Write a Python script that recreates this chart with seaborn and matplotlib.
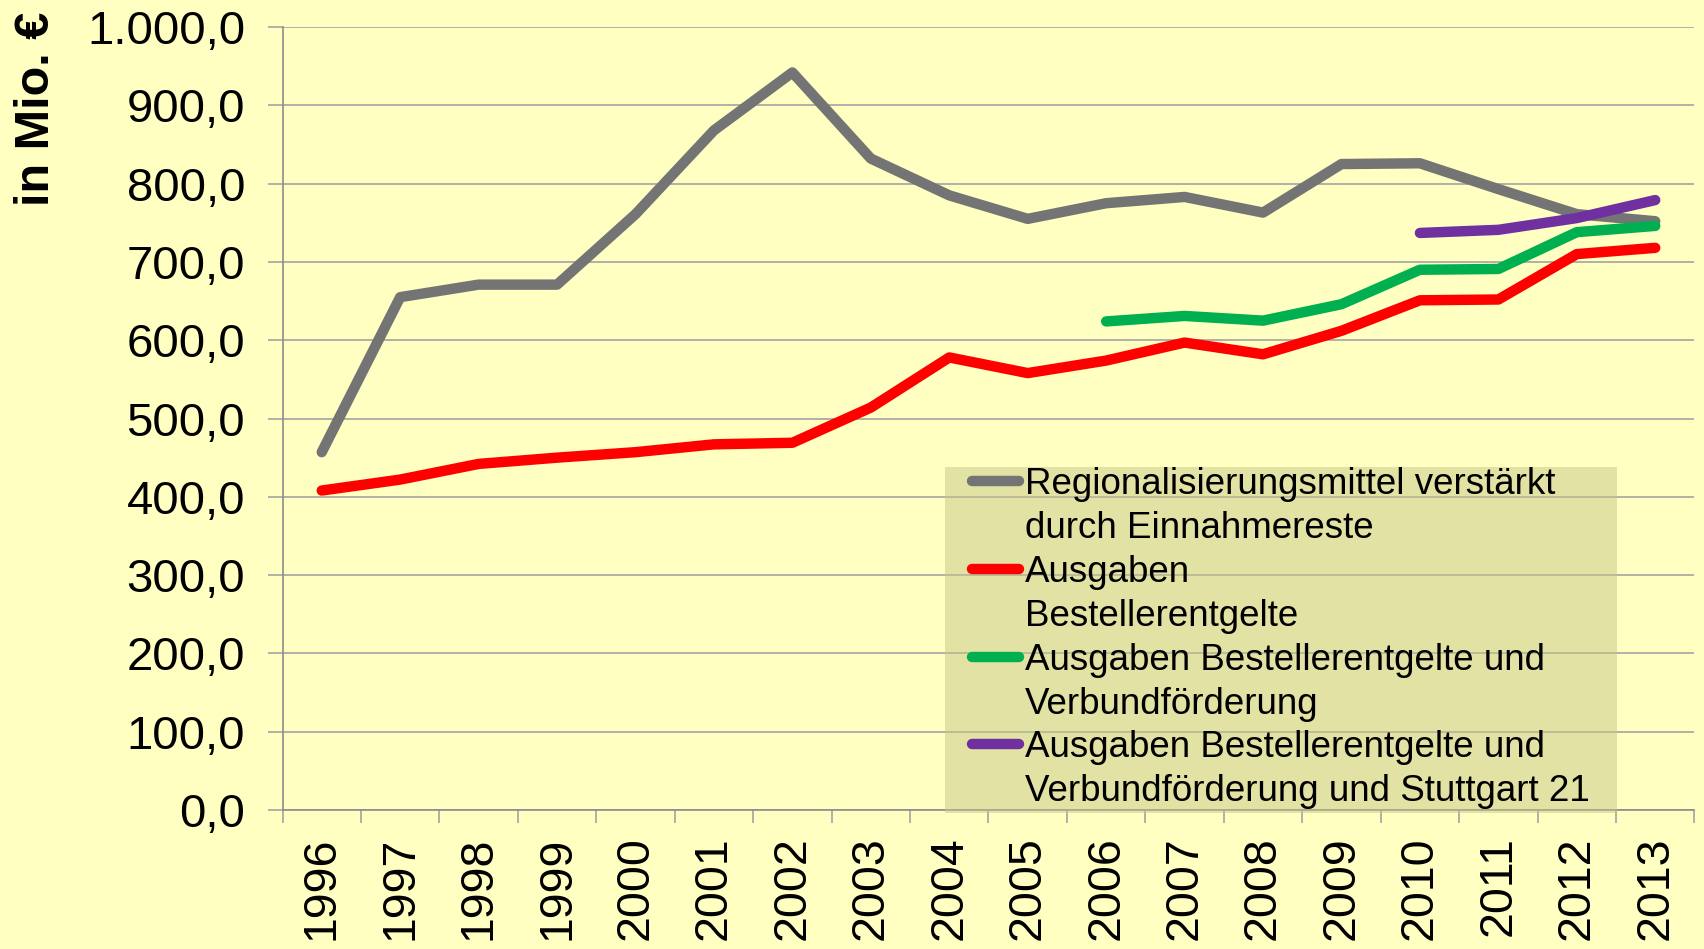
import matplotlib
matplotlib.use("Agg")
import matplotlib.pyplot as plt
from matplotlib.lines import Line2D
from matplotlib.path import Path
from matplotlib.ticker import FuncFormatter, MultipleLocator
import seaborn as sns

# data (Mio. EUR)
years = list(range(1996, 2014))
regionalisierung = [457, 655, 671, 671, 761, 868, 942, 832, 785, 755, 775, 783, 763, 825, 826, 793, 761, 752]
bestellerentgelte = [408, 422, 442, 450, 457, 467, 469, 514, 578, 558, 574, 597, 582, 612, 651, 652, 710, 718]
years_verbund = list(range(2006, 2014))
verbund = [624, 631, 625, 646, 690, 691, 738, 746]
years_s21 = list(range(2010, 2014))
stuttgart21 = [737, 741, 756, 779]

labels = [
    ("Regionalisierungsmittel verstärkt", "durch Einnahmereste"),
    ("Ausgaben", "Bestellerentgelte"),
    ("Ausgaben Bestellerentgelte und", "Verbundförderung"),
    ("Ausgaben Bestellerentgelte und", "Verbundförderung und Stuttgart 21"),
]
colors = ["#747474", "#FF0000", "#00B050", "#7030A0"]

bg = "#FFFFC2"
grid_col = "#a3a3a3"

sns.set_style("white")
plt.rcParams["font.family"] = ["Liberation Sans", "DejaVu Sans"]
plt.rcParams["text.color"] = "black"
plt.rcParams["xtick.labelcolor"] = "black"
plt.rcParams["ytick.labelcolor"] = "black"

fig = plt.figure(figsize=(17.04, 9.49), dpi=100, facecolor=bg)
ax = fig.add_axes([0.1658, 0.1465, 0.8286, 0.825])
ax.set_facecolor(bg)

series = [
    (years, regionalisierung),
    (years, bestellerentgelte),
    (years_verbund, verbund),
    (years_s21, stuttgart21),
]
for (x, y), c in zip(series, colors):
    sns.lineplot(x=x, y=y, ax=ax, color=c, linewidth=7.5,
                 solid_capstyle="round", legend=False)

ax.set_xlim(1995.5, 2013.5)
ax.set_ylim(0, 1000)
ax.yaxis.set_major_locator(MultipleLocator(100))
ax.yaxis.set_major_formatter(FuncFormatter(
    lambda v, p: f"{v:,.1f}".replace(",", "X").replace(".", ",").replace("X", ".")))
ax.set_xticks(years)
ax.set_xticklabels([str(y) for y in years], rotation=90)
ax.set_xticks([y - 0.5 for y in years] + [2013.5], minor=True)

ax.yaxis.grid(True, color=grid_col, linewidth=1.2)
ax.set_axisbelow(True)
for s in ["top", "right"]:
    ax.spines[s].set_visible(False)
for s in ["left", "bottom"]:
    ax.spines[s].set_color("#8c8c8c")
    ax.spines[s].set_linewidth(1.2)

ax.tick_params(axis="y", length=10.5, width=1.2, color=grid_col, pad=16.5,
               labelsize=34, left=True)
ax.tick_params(axis="x", which="major", length=0, pad=19, labelsize=33.5)
ax.tick_params(axis="x", which="minor", length=9.5, width=1.2, color=grid_col,
               bottom=True)
ax.set_xlabel("")
ax.set_ylabel("")

fig.text(37 / 1704, 1 - 12 / 949, "in Mio. €", rotation=90, ha="center", va="top",
         fontsize=35, fontweight="bold", color="black")

# legend: one entry per text line so the handle sits at the first line
handles, texts = [], []
for (first, second), c in zip(labels, colors):
    handles.append(Line2D([], [], color=c, linewidth=7.5, solid_capstyle="round"))
    texts.append(first)
    handles.append(Line2D([], [], color="none"))
    texts.append(second)

leg = ax.legend(handles, texts, loc="lower left", bbox_to_anchor=(0.488, 0.001),
                borderaxespad=0, fontsize=26.5, frameon=True, fancybox=False,
                framealpha=0.5, facecolor="#C6C688", edgecolor="none",
                handlelength=1.3, handletextpad=0.15, labelspacing=0.24,
                borderpad=0, labelcolor="black")


def side_pad_box(x0, y0, width, height, mutation_size):
    # frame padded mostly left/right, like the original legend box
    left = x0 - 0.72 * mutation_size
    right = x0 + width + 0.75 * mutation_size
    bottom = y0 - 0.1 * mutation_size
    top = y0 + height + 0.02 * mutation_size
    return Path([(left, bottom), (right, bottom), (right, top),
                 (left, top), (left, bottom)], closed=True)


leg.get_frame().set_boxstyle(side_pad_box)

fig.savefig("out.png", dpi=100, facecolor=bg)
